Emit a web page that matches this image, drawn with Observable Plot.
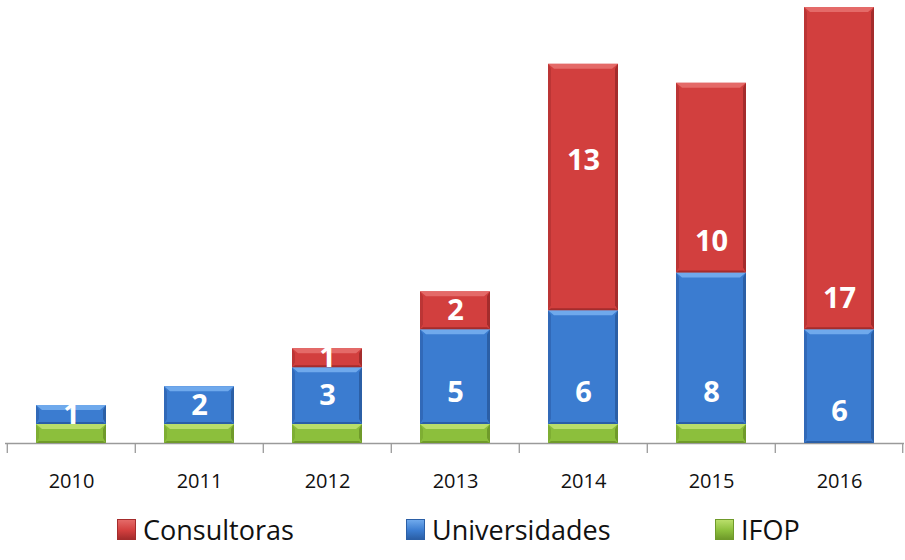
<!DOCTYPE html>
<html>
<head>
<meta charset="utf-8">
<script src="https://cdn.jsdelivr.net/npm/d3@7"></script>
<script src="https://cdn.jsdelivr.net/npm/@observablehq/plot@0.6"></script>
<style>
  body { margin: 0; background: #fff; font-family: "Open Sans", sans-serif; }
  #legend { display: flex; align-items: center; height: 55px; position: relative; }
  .item { position: absolute; display: flex; align-items: center; font-size: 27px; color: #111; top: 6px; }
  .sw { width: 19px; height: 21px; margin-right: 7px; box-sizing: border-box; }
</style>
</head>
<body>
<div id="chart"></div>
<div id="legend"></div>
<script>
const years = ["2010", "2011", "2012", "2013", "2014", "2015", "2016"];
const series = ["IFOP", "Universidades", "Consultoras"];
const ifop = [1, 1, 1, 1, 1, 1, 0];
const universidades = [1, 2, 3, 5, 6, 8, 6];
const consultoras = [0, 0, 1, 2, 13, 10, 17];

const palette = {
  IFOP: {base: "#8cbf3c", light: "#b9de6a", dark: "#6f9a2a", side: "#7eae33"},
  Universidades: {base: "#3b7cd0", light: "#6fa9ec", dark: "#2b5fa6", side: "#3169b8"},
  Consultoras: {base: "#d23f3e", light: "#e46a68", dark: "#a42c2c", side: "#bb3535"}
};

const rows = [];
years.forEach((y, i) => {
  rows.push({year: y, series: "IFOP", value: ifop[i]});
  rows.push({year: y, series: "Universidades", value: universidades[i]});
  rows.push({year: y, series: "Consultoras", value: consultoras[i]});
});

// label placement rule (in data units above segment bottom)
const labels = [];
years.forEach((y, i) => {
  let base = ifop[i];
  if (universidades[i] > 0) {
    labels.push({year: y, value: universidades[i], pos: base + Math.min(universidades[i] / 2, 1.7)});
  }
  base += universidades[i];
  if (consultoras[i] > 0) {
    const lift = y === "2014" ? consultoras[i] * 0.61 : Math.min(consultoras[i] / 2, 1.65);
    labels.push({year: y, value: consultoras[i], pos: base + lift});
  }
});

const W = 905, H = 505, mL = 5, mR = 1;
const step = (W - mL - mR) / years.length;

function bevel(index, scales, values, dims, context, next) {
  const g = next(index, scales, values, dims, context);
  const sel = d3.select(g);
  sel.selectAll("rect").each(function(_, k) {
    const r = d3.select(this);
    const i = index[k];
    const d = rows[i];
    const c = palette[d.series];
    const x = +r.attr("x"), y = +r.attr("y"), w = +r.attr("width"), h = +r.attr("height");
    if (!(h > 0)) return;
    r.attr("fill", c.base);
    const b = Math.min(5, h / 3), s = 3;
    const parent = d3.select(this.parentNode);
    const poly = (pts, fill) => parent.append("polygon").attr("points", pts.map(p => p.join(",")).join(" ")).attr("fill", fill);
    poly([[x, y], [x + s, y + b], [x + s, y + h - b], [x, y + h]], c.side);
    poly([[x + w, y], [x + w - s, y + b], [x + w - s, y + h - b], [x + w, y + h]], c.dark);
    poly([[x, y], [x + w, y], [x + w - s - 3, y + b], [x + s + 3, y + b]], c.light);
    poly([[x, y + h], [x + w, y + h], [x + w - s, y + h - 2], [x + s, y + h - 2]], c.dark);
  });
  return g;
}

const chart = Plot.plot({
  width: W,
  height: H,
  marginLeft: mL,
  marginRight: mR,
  marginTop: 7,
  marginBottom: H - 443,
  style: {fontFamily: "Open Sans, sans-serif", background: "#fff"},
  x: {domain: years, paddingInner: 0.455, paddingOuter: 0.2275, label: null},
  y: {domain: [0, 23], axis: null},
  marks: [
    Plot.ruleY([0], {stroke: "#9a9a9a", strokeWidth: 1.3}),
    Plot.ruleX(years, {x: d => d, dx: -step / 2, y1: 0, y2: 0, insetBottom: -10, stroke: "#9a9a9a", strokeWidth: 1.3}),
    Plot.ruleX([years[years.length - 1]], {x: d => d, dx: step / 2 - 1, y1: 0, y2: 0, insetBottom: -10, stroke: "#9a9a9a", strokeWidth: 1.3}),
    Plot.barY(rows, Plot.stackY({x: "year", y: "value", z: "series", order: series, fill: "series", render: bevel})),
    Plot.text(labels, {x: "year", y: "pos", text: d => String(d.value), fill: "white", fontSize: 29, fontWeight: "bold"}),
    Plot.axisX({tickSize: 0, tickPadding: 30, fontSize: 20, fill: "#111", label: null})
  ],
  color: {domain: series, range: series.map(s => palette[s].base)}
});
document.getElementById("chart").appendChild(chart);

const legendItems = [
  {name: "Consultoras", left: 117},
  {name: "Universidades", left: 406},
  {name: "IFOP", left: 715}
];
const leg = document.getElementById("legend");
legendItems.forEach(it => {
  const c = palette[it.name];
  const div = document.createElement("div");
  div.className = "item";
  div.style.left = it.left + "px";
  div.innerHTML = `<span class="sw" style="background:linear-gradient(to bottom, ${c.light}, ${c.base} 55%, ${c.dark}); border:1px solid ${c.dark}"></span><span>${it.name}</span>`;
  leg.appendChild(div);
});
</script>
</body>
</html>
